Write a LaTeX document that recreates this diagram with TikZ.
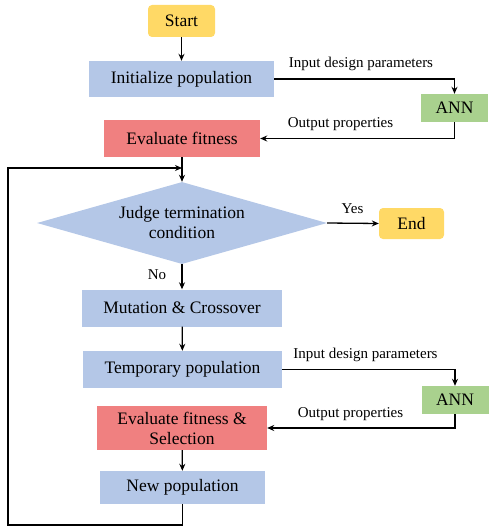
\documentclass[tikz,border=0pt]{standalone}
\usepackage{fontspec}
\setmainfont{Liberation Serif}
\usetikzlibrary{shapes.geometric,arrows.meta}

\definecolor{startyel}{HTML}{FFD966}
\definecolor{procblue}{HTML}{B4C7E7}
\definecolor{annfgreen}{HTML}{A9D18E}
\definecolor{evalred}{HTML}{F08080}

\begin{document}
\begin{tikzpicture}[x=1pt, y=-1pt,
  every node/.style={font=\fontsize{17.5}{20}\selectfont, text=black, inner sep=0pt},
  procbox/.style={fill=procblue, minimum height=37pt},
  termbox/.style={fill=startyel, rounded corners=4pt},
  annbox/.style={fill=annfgreen, minimum width=67pt, minimum height=28pt},
  evalbox/.style={fill=evalred},
  lbl/.style={font=\fontsize{15}{17}\selectfont},
  flow/.style={line width=1.3pt, -{Stealth[length=7pt,width=6pt]}}]

\useasboundingbox (0,0) rectangle (489,527);

%% ── Main chain ─────────────────────────────────────────────────────────────
\node[termbox, minimum width=67pt, minimum height=32pt] (start) at (181.5, 21) {Start};
\node[procbox, minimum width=185pt, minimum height=36pt] (init) at (181.5, 79) {Initialize population};
\node[annbox] (annA) at (454.5, 108) {ANN};
\node[evalbox, minimum width=156pt, minimum height=37pt] (evalA) at (182, 138.5) {Evaluate fitness};

\node[diamond, aspect=3.54, fill=procblue, minimum width=290pt, minimum height=82pt, align=center]
  (judge) at (182, 223) {Judge termination\\condition};
\node[termbox, minimum width=65pt, minimum height=31pt] (finish) at (411.5, 223.5) {End};

\node[procbox, minimum width=200pt] (mut) at (182, 308) {Mutation \& Crossover};
\node[procbox, minimum width=199pt] (temp) at (182.5, 369.5) {Temporary population};
\node[annbox] (annB) at (455, 400) {ANN};
\node[evalbox, minimum width=170pt, minimum height=44pt, align=center]
  (evalB) at (182, 428) {Evaluate fitness \&\\Selection};
\node[procbox, minimum width=165pt, minimum height=33pt] (newpop) at (182.5, 487.5) {New population};

%% ── Labels ─────────────────────────────────────────────────────────────────
\node[lbl] (inA)  at (361, 64)    {Input design parameters};
\node[lbl] (outA) at (340.5, 124) {Output properties};
\node[lbl] (yes)  at (352.5, 209) {Yes};
\node[lbl] (no)   at (157, 274.5) {No};
\node[lbl] (inB)  at (365.5, 355) {Input design parameters};
\node[lbl] (outB) at (350.5, 414) {Output properties};

%% ── Connectors ─────────────────────────────────────────────────────────────
\coordinate (back)  at (8, 525);
\coordinate (merge) at (182, 168);

\draw[flow] (start) -- (init);
\draw[flow] (init.east) -| (annA.north);
\draw[flow] (annA.south) |- (evalA.east);
\draw[flow] (evalA) -- (judge.north);
\draw[flow] (judge.east) -- (finish.west);
\draw[flow] (judge.south) -- (mut.north);
\draw[flow] (mut) -- (temp);
\draw[flow] (temp.east) -| (annB.north);
\draw[flow] (annB.south) |- (evalB.east);
\draw[flow] (evalB) -- (newpop);
\draw[flow] (newpop.south) |- (back) |- (merge);

\end{tikzpicture}
\end{document}
